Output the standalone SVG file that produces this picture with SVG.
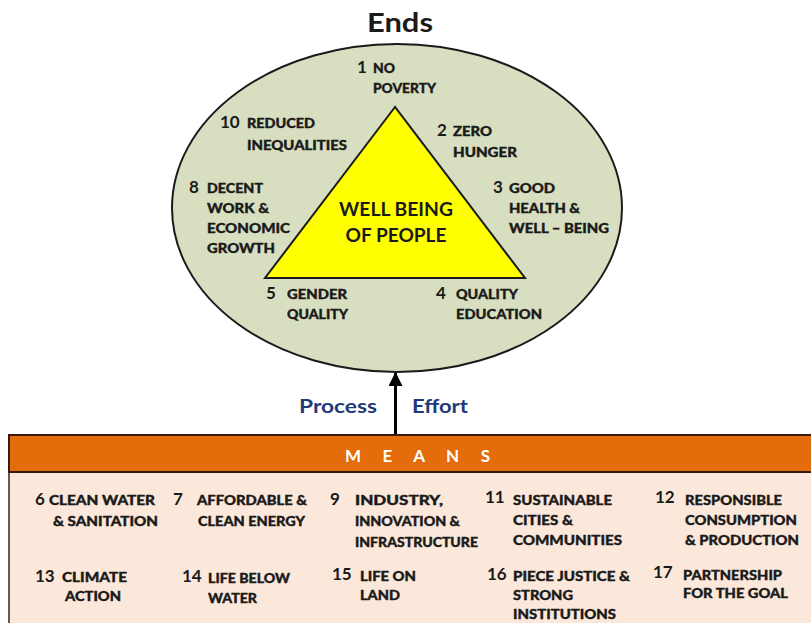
<svg xmlns="http://www.w3.org/2000/svg" width="811" height="623" viewBox="0 0 811 623">
  <style>
    text { font-family: Lato, "Liberation Sans", sans-serif; font-weight: 700; fill: #1a1a1a; }
    .num { font-size: 17px; }
    .w { font-size: 13px; font-weight: 900; stroke: #1a1a1a; stroke-width: 0.35; }
    .title { font-size: 26px; }
    .core { font-size: 18px; text-anchor: middle; }
    .flow { font-size: 19px; fill: #1f3a78; }
    .means { font-size: 17px; fill: #ffffff; }
  </style>
  <defs>
    <marker id="head" viewBox="0 0 14 14" refX="13" refY="7" markerWidth="14" markerHeight="14" markerUnits="userSpaceOnUse" orient="auto">
      <path d="M0,0 L14,7 L0,14 Z" fill="#000"/>
    </marker>
  </defs>
  <rect width="811" height="623" fill="#ffffff"/>

  <text class="title" x="367" y="32" textLength="66" lengthAdjust="spacingAndGlyphs">Ends</text>

  <!-- Ends: ellipse with the well-being triangle -->
  <g id="ends">
    <ellipse cx="397" cy="208" rx="225" ry="164" fill="#d8dfc0" stroke="#1a1a1a" stroke-width="2"/>
  </g>
  <g id="wellbeing">
    <polygon points="395,107 265,278 525,278" fill="#ffff00" stroke="#1a1a1a" stroke-width="2"/>
    <text class="core" x="396" y="216" textLength="114" lengthAdjust="spacingAndGlyphs">WELL BEING</text>
    <text class="core" x="396" y="242" textLength="101" lengthAdjust="spacingAndGlyphs">OF PEOPLE</text>
  </g>

  <g id="goal1">
    <text class="num" x="357" y="73">1</text>
    <text class="w" x="373" y="73" textLength="22" lengthAdjust="spacingAndGlyphs">NO</text>
    <text class="w" x="373" y="93" textLength="63" lengthAdjust="spacingAndGlyphs">POVERTY</text>
  </g>
  <g id="goal10">
    <text class="num" x="220" y="128">10</text>
    <text class="w" x="247" y="128" textLength="68" lengthAdjust="spacingAndGlyphs">REDUCED</text>
    <text class="w" x="247" y="150" textLength="100" lengthAdjust="spacingAndGlyphs">INEQUALITIES</text>
  </g>
  <g id="goal2">
    <text class="num" x="437" y="136">2</text>
    <text class="w" x="453" y="136" textLength="39" lengthAdjust="spacingAndGlyphs">ZERO</text>
    <text class="w" x="453" y="157" textLength="64" lengthAdjust="spacingAndGlyphs">HUNGER</text>
  </g>
  <g id="goal8">
    <text class="num" x="189" y="193">8</text>
    <text class="w" x="207" y="193" textLength="56" lengthAdjust="spacingAndGlyphs">DECENT</text>
    <text class="w" x="207" y="213" textLength="62" lengthAdjust="spacingAndGlyphs">WORK &amp;</text>
    <text class="w" x="207" y="233" textLength="83" lengthAdjust="spacingAndGlyphs">ECONOMIC</text>
    <text class="w" x="207" y="253" textLength="68" lengthAdjust="spacingAndGlyphs">GROWTH</text>
  </g>
  <g id="goal3">
    <text class="num" x="493" y="193">3</text>
    <text class="w" x="509" y="193" textLength="46" lengthAdjust="spacingAndGlyphs">GOOD</text>
    <text class="w" x="509" y="213" textLength="71" lengthAdjust="spacingAndGlyphs">HEALTH &amp;</text>
    <text class="w" x="509" y="233" textLength="100" lengthAdjust="spacingAndGlyphs">WELL – BEING</text>
  </g>
  <g id="goal5">
    <text class="num" x="266" y="299">5</text>
    <text class="w" x="287" y="299" textLength="60" lengthAdjust="spacingAndGlyphs">GENDER</text>
    <text class="w" x="287" y="319" textLength="61" lengthAdjust="spacingAndGlyphs">QUALITY</text>
  </g>
  <g id="goal4">
    <text class="num" x="436" y="299">4</text>
    <text class="w" x="456" y="299" textLength="62" lengthAdjust="spacingAndGlyphs">QUALITY</text>
    <text class="w" x="456" y="319" textLength="86" lengthAdjust="spacingAndGlyphs">EDUCATION</text>
  </g>

  <!-- Means panel -->
  <g id="means">
    <rect x="9" y="472" width="812" height="160" fill="#fce8da" stroke="#3a2418" stroke-width="1.5"/>
    <rect x="9" y="435" width="812" height="37" fill="#e46c0a" stroke="#3a1a10" stroke-width="2"/>
    <text class="means" x="345" y="462" textLength="145" lengthAdjust="spacing">M E A N S</text>
  </g>

  <!-- Connector: means drive the ends -->
  <g id="connectors">
    <line x1="395.5" y1="434" x2="395.5" y2="373" stroke="#000" stroke-width="3" marker-end="url(#head)"/>
    <text class="flow" x="299" y="413" textLength="78" lengthAdjust="spacingAndGlyphs">Process</text>
    <text class="flow" x="412" y="413" textLength="56" lengthAdjust="spacingAndGlyphs">Effort</text>
  </g>

  <g id="goal6">
    <text class="num" x="35" y="505">6</text>
    <text class="w" x="49" y="505" textLength="106" lengthAdjust="spacingAndGlyphs">CLEAN WATER</text>
    <text class="w" x="53" y="526" textLength="105" lengthAdjust="spacingAndGlyphs">&amp; SANITATION</text>
  </g>
  <g id="goal7">
    <text class="num" x="173" y="505">7</text>
    <text class="w" x="197" y="505" textLength="110" lengthAdjust="spacingAndGlyphs">AFFORDABLE &amp;</text>
    <text class="w" x="198" y="526" textLength="107" lengthAdjust="spacingAndGlyphs">CLEAN ENERGY</text>
  </g>
  <g id="goal9">
    <text class="num" x="330" y="505">9</text>
    <text class="w" x="355" y="505" textLength="88" lengthAdjust="spacingAndGlyphs">INDUSTRY,</text>
    <text class="w" x="355" y="526" textLength="105" lengthAdjust="spacingAndGlyphs">INNOVATION &amp;</text>
    <text class="w" x="355" y="547" textLength="123" lengthAdjust="spacingAndGlyphs">INFRASTRUCTURE</text>
  </g>
  <g id="goal11">
    <text class="num" x="485" y="503">11</text>
    <text class="w" x="513" y="505" textLength="99" lengthAdjust="spacingAndGlyphs">SUSTAINABLE</text>
    <text class="w" x="513" y="525" textLength="60" lengthAdjust="spacingAndGlyphs">CITIES &amp;</text>
    <text class="w" x="513" y="545" textLength="109" lengthAdjust="spacingAndGlyphs">COMMUNITIES</text>
  </g>
  <g id="goal12">
    <text class="num" x="655" y="503">12</text>
    <text class="w" x="685" y="505" textLength="97" lengthAdjust="spacingAndGlyphs">RESPONSIBLE</text>
    <text class="w" x="685" y="525" textLength="112" lengthAdjust="spacingAndGlyphs">CONSUMPTION</text>
    <text class="w" x="685" y="545" textLength="114" lengthAdjust="spacingAndGlyphs">&amp; PRODUCTION</text>
  </g>
  <g id="goal13">
    <text class="num" x="35" y="582">13</text>
    <text class="w" x="62" y="582" textLength="65" lengthAdjust="spacingAndGlyphs">CLIMATE</text>
    <text class="w" x="65" y="601" textLength="56" lengthAdjust="spacingAndGlyphs">ACTION</text>
  </g>
  <g id="goal14">
    <text class="num" x="182" y="582">14</text>
    <text class="w" x="208" y="583" textLength="82" lengthAdjust="spacingAndGlyphs">LIFE BELOW</text>
    <text class="w" x="208" y="603" textLength="49" lengthAdjust="spacingAndGlyphs">WATER</text>
  </g>
  <g id="goal15">
    <text class="num" x="332" y="580">15</text>
    <text class="w" x="360" y="581" textLength="56" lengthAdjust="spacingAndGlyphs">LIFE ON</text>
    <text class="w" x="360" y="600" textLength="40" lengthAdjust="spacingAndGlyphs">LAND</text>
  </g>
  <g id="goal16">
    <text class="num" x="487" y="580">16</text>
    <text class="w" x="513" y="581" textLength="117" lengthAdjust="spacingAndGlyphs">PIECE JUSTICE &amp;</text>
    <text class="w" x="513" y="600" textLength="60" lengthAdjust="spacingAndGlyphs">STRONG</text>
    <text class="w" x="513" y="619" textLength="103" lengthAdjust="spacingAndGlyphs">INSTITUTIONS</text>
  </g>
  <g id="goal17">
    <text class="num" x="653" y="578">17</text>
    <text class="w" x="683" y="580" textLength="99" lengthAdjust="spacingAndGlyphs">PARTNERSHIP</text>
    <text class="w" x="683" y="598" textLength="105" lengthAdjust="spacingAndGlyphs">FOR THE GOAL</text>
  </g>
</svg>
